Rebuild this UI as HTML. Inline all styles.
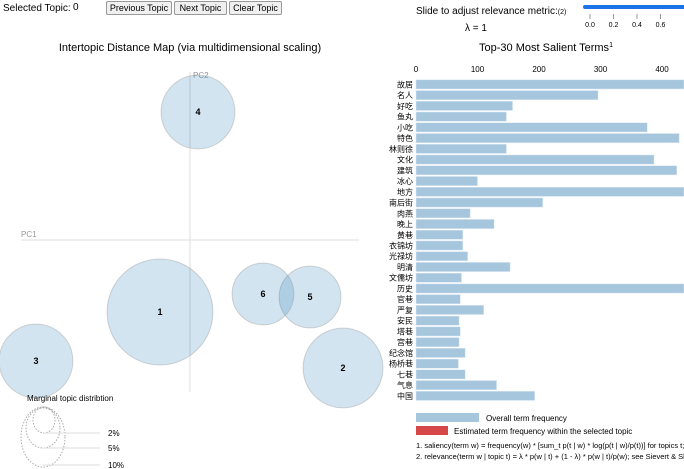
<!DOCTYPE html>
<html><head><meta charset="utf-8">
<style>
body{margin:0;width:684px;height:469px;overflow:hidden;background:#fff;font-family:"Liberation Sans","Noto Sans CJK SC",sans-serif;}
.btn{position:absolute;top:1px;height:14px;font-size:9px;line-height:13px;border:1px solid #999;background:#f0f0f0;border-radius:2px;color:#000;text-align:center;box-sizing:border-box;}
</style></head><body>
<div style="position:absolute;left:3px;top:3px;font-size:10px;">Selected Topic:</div>
<div style="position:absolute;left:70px;top:2px;width:30px;height:13px;font-size:10px;padding-left:3px;">0</div>
<div class="btn" style="left:106px;width:66px;">Previous Topic</div>
<div class="btn" style="left:174px;width:53px;">Next Topic</div>
<div class="btn" style="left:229px;width:53px;">Clear Topic</div>
<svg width="684" height="469" style="position:absolute;left:0;top:0">
<text x="416" y="14" font-size="10">Slide to adjust relevance metric:<tspan font-size="7">(2)</tspan></text>
<text x="465" y="31" font-size="10">λ = 1</text>
<line x1="585" y1="7" x2="684" y2="7" stroke="#1a73e8" stroke-width="4" stroke-linecap="round"/>
<g id="slider-ticks" font-size="7" text-anchor="middle"></g>
<text x="190" y="51" font-size="11" text-anchor="middle">Intertopic Distance Map (via multidimensional scaling)</text>
<text x="546" y="51" font-size="11" text-anchor="middle">Top-30 Most Salient Terms<tspan font-size="7" dy="-4">1</tspan></text>
<line x1="190" y1="72" x2="190" y2="392" stroke="#ddd"/>
<line x1="21" y1="240" x2="359" y2="240" stroke="#ddd"/>
<text x="193" y="78" font-size="8" fill="#999">PC2</text>
<text x="21" y="237" font-size="8" fill="#999">PC1</text>
<g id="circles"></g>
<text x="27" y="401" font-size="8">Marginal topic distribtion</text>
<g fill="none" stroke="#aaa" stroke-dasharray="1.5,1.5">
<ellipse cx="43" cy="437" rx="22" ry="30"/>
<ellipse cx="43" cy="428" rx="17" ry="20"/>
<ellipse cx="44" cy="420" rx="11" ry="13"/>
</g>
<g stroke="#ddd"><line x1="44" y1="433" x2="100" y2="433"/><line x1="43" y1="448" x2="100" y2="448"/><line x1="43" y1="465" x2="100" y2="465"/></g>
<g font-size="8"><text x="108" y="436">2%</text><text x="108" y="451">5%</text><text x="108" y="468">10%</text></g>
<g id="bars"></g>
<rect x="416" y="413" width="63" height="9" fill="#a6c6de"/>
<text x="486" y="421" font-size="8">Overall term frequency</text>
<rect x="416" y="426" width="32" height="9" fill="#d6474a"/>
<text x="454" y="434" font-size="8">Estimated term frequency within the selected topic</text>
<text x="416" y="448" font-size="7.5">1. saliency(term w) = frequency(w) * [sum_t p(t | w) * log(p(t | w)/p(t))] for topics t; see Chuang et. al (2012)</text>
<text x="416" y="459" font-size="7.5">2. relevance(term w | topic t) = λ * p(w | t) + (1 - λ) * p(w | t)/p(w); see Sievert &amp; Shirley (2014)</text>
</svg>
<script>
const topicIds=[1,2,3,4,5,6];
const topicPC1=[-0.30,1.53,-1.54,0.08,1.20,0.73];
const topicPC2=[-0.72,-1.28,-1.21,1.28,-0.57,-0.54];
const topicPct=[9.7,5.5,4.7,4.7,3.3,3.3];
const terms=["故居","名人","好吃","鱼丸","小吃","特色","林则徐","文化","建筑","冰心","地方","南后街","肉燕","晚上","黄巷","衣锦坊","光禄坊","明清","文儒坊","历史","官巷","严复","安民","塔巷","宫巷","纪念馆","杨桥巷","七巷","气息","中国"];
const freqs=[450,296,157,147,376,428,147,387,424,100,450,206,88,127,76,76,84,153,74,450,72,110,70,72,70,80,69,80,131,193];
const xTicks=[0,100,200,300,400];
const sliderTicks=["0.0","0.2","0.4","0.6"];
const NS="http://www.w3.org/2000/svg";
function mk(t,a,p){const e=document.createElementNS(NS,t);for(const k in a)e.setAttribute(k,a[k]);p.appendChild(e);return e;}
const mx=v=>190+v*100, my=v=>240-v*100, mr=p=>17*Math.sqrt(p);
const cg=document.getElementById('circles');
topicIds.forEach((id,i)=>{
 const c=mk('circle',{cx:mx(topicPC1[i]),cy:my(topicPC2[i]),r:mr(topicPct[i]),fill:'rgba(31,119,180,0.2)',stroke:'rgba(150,150,150,0.4)'},cg);
 
 
 const t=mk('text',{x:mx(topicPC1[i]),y:my(topicPC2[i])+3,'font-size':9,'font-weight':'bold','text-anchor':'middle'},cg);
 t.textContent=id;
 
 
});
const bx=v=>416+v*0.615, step=10.74, y0=84.4;
const bg=document.getElementById('bars');
xTicks.forEach(v=>{const t=mk('text',{x:bx(v),y:72,'font-size':8,'text-anchor':'middle'},bg);t.textContent=v;
 
 });
terms.forEach((w,i)=>{
 const y=y0+i*step;
 const r=mk('rect',{x:416,y:y-4.6,width:Math.min(bx(freqs[i]),684)-416,height:9.2,fill:'#a6c6de',stroke:'#dbe8f2','stroke-width':0.5},bg);
 
 
 const t=mk('text',{x:413,y:y+3,'font-size':8,'text-anchor':'end'},bg);t.textContent=w;
 
 
});
const sg=document.getElementById('slider-ticks');
sliderTicks.forEach((s,i)=>{const x=590+i*23.5;
 mk('line',{x1:x,y1:14,x2:x,y2:19,stroke:'#999'},sg);
 const t=mk('text',{x:x,y:27},sg);t.textContent=s;
 
 });
</script>
</body></html>
